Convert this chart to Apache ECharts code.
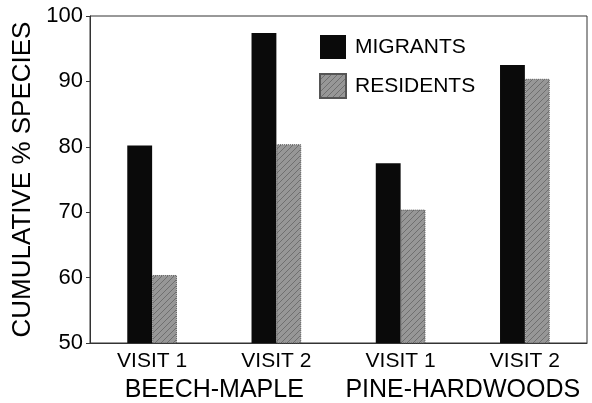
<!DOCTYPE html>
<html>
<head>
<meta charset="utf-8">
<script src="https://cdn.jsdelivr.net/npm/echarts@6/dist/echarts.min.js"></script>
<style>
  html, body { margin: 0; padding: 0; background: #fff; }
  #chart { width: 592px; height: 403px; }
</style>
</head>
<body>
<div id="chart"></div>
<script>
// values
const visits = ['VISIT 1', 'VISIT 2', 'VISIT 1', 'VISIT 2'];
const forests = ['BEECH-MAPLE', 'PINE-HARDWOODS'];
const migrants = [80.2, 97.4, 77.5, 92.5];
const residents = [60.4, 80.4, 70.4, 90.4];

// gray hatched fill like the printed original
function hatch() {
  const c = document.createElement('canvas');
  c.width = 6;
  c.height = 6;
  const ctx = c.getContext('2d');
  ctx.fillStyle = '#979797';
  ctx.fillRect(0, 0, 6, 6);
  ctx.strokeStyle = '#6f6f6f';
  ctx.lineWidth = 1;
  ctx.beginPath();
  ctx.moveTo(0, 6);
  ctx.lineTo(6, 0);
  ctx.stroke();
  return c;
}

const font = 'Liberation Sans';
const chart = echarts.init(document.getElementById('chart'));

chart.setOption({
  animation: false,
  textStyle: { fontFamily: font, color: '#000' },
  grid: {
    left: 90, right: 5, top: 16, bottom: 60,
    show: true, borderColor: '#333', borderWidth: 1,
  },
  legend: {
    orient: 'vertical',
    left: 314,
    top: 30,
    icon: 'rect',
    itemWidth: 26,
    itemHeight: 24,
    itemGap: 14,
    textStyle: { fontFamily: font, fontSize: 21, color: '#000', padding: [0, 0, 0, 4] },
    data: ['MIGRANTS', 'RESIDENTS'],
  },
  xAxis: [
    {
      type: 'category',
      data: visits,
      axisLine: { lineStyle: { color: '#333' } },
      axisTick: { show: false },
      axisLabel: { interval: 0, fontSize: 21, color: '#000', margin: 8 },
    },
    {
      type: 'category',
      data: forests,
      position: 'bottom',
      offset: 27,
      axisLine: { show: false },
      axisTick: { show: false },
      axisLabel: { interval: 0, fontSize: 25, color: '#000', margin: 8 },
    },
  ],
  yAxis: {
    type: 'value',
    min: 50,
    max: 100,
    interval: 10,
    name: 'CUMULATIVE % SPECIES',
    nameLocation: 'middle',
    nameGap: 48,
    nameTextStyle: { fontSize: 26, color: '#000', fontFamily: font },
    axisLine: { show: true, lineStyle: { color: '#333' } },
    axisTick: { show: true, length: 4, lineStyle: { color: '#333' } },
    axisLabel: { fontSize: 22, color: '#000', margin: 7 },
    splitLine: { show: false },
  },
  series: [
    {
      name: 'MIGRANTS',
      type: 'bar',
      data: migrants,
      barGap: 0,
      barCategoryGap: '60%',
      itemStyle: { color: '#0a0a0a' },
    },
    {
      name: 'RESIDENTS',
      type: 'bar',
      data: residents,
      itemStyle: {
        color: { image: hatch(), repeat: 'repeat' },
        borderColor: '#555',
        borderWidth: 1,
        borderType: 'dotted',
      },
    },
  ],
});
</script>
</body>
</html>
